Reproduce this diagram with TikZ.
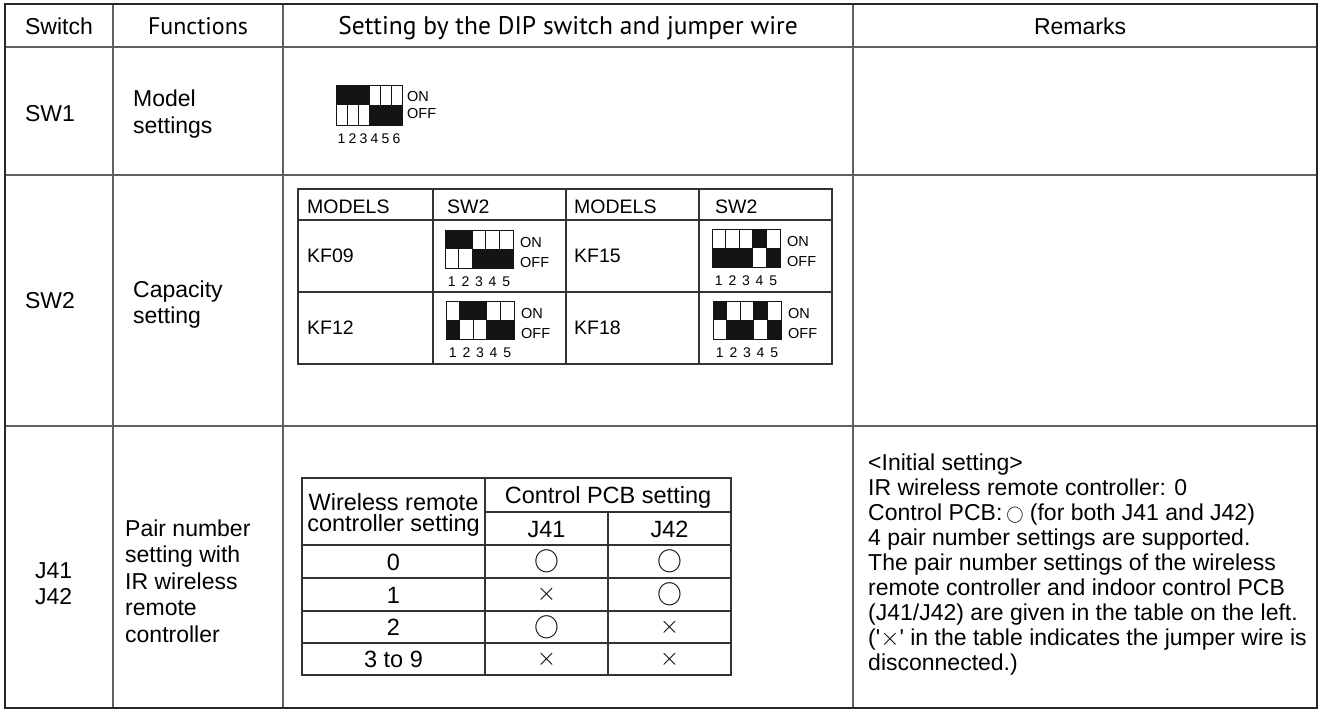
\documentclass[tikz,border=0pt]{standalone}
\usepackage{fontspec}
\setmainfont{Liberation Sans}[Ligatures=TeXOff]
\newfontfamily\hdfont{PT Sans}
\newcommand\fsz[2]{\fontsize{#1}{#2}\selectfont}
\newcommand\cir{\fsz{25}{25}$\bigcirc$}
\newcommand\crs{\fsz{38}{38}$\times$}
\newcommand\smcir{\raisebox{0.5pt}{\fsz{18}{18}$\bigcirc$}}
\newcommand\smcrs{$\times$}
\tikzset{
  gridline/.style={draw=black!62, line width=1.4pt},
  frameline/.style={draw=black!85, line width=2pt},
  itab/.style={draw=black!80, line width=1.1pt},
  dipfill/.style={fill=black!92},
  dipline/.style={draw=black!92, line width=0.9pt},
  txt/.style={inner sep=0pt, font=\fsz{23}{23}},
  btxt/.style={txt, anchor=base},
  bwtxt/.style={txt, anchor=base west},
  htxt/.style={inner sep=0pt, anchor=base, font=\hdfont\fsz{24}{24}},
  stxt/.style={inner sep=0pt, anchor=base west, font=\fsz{19.5}{19.5}},
  jtxt/.style={inner sep=0pt, anchor=base, font=\fsz{23.5}{23.5}},
  digit/.style={inner sep=0pt, font=\fsz{14}{14}},
  onoff/.style={inner sep=0pt, anchor=base west, font=\fsz{14.5}{14.5}},
  sym/.style={inner sep=0pt}
}
% #1 name, #2 x, #3 y, #4 switch width, #5 half height, #6 pattern (1 = ON)
\newcommand\dipsw[6]{%
  \foreach \v [count=\i] in {#6} {
    \pgfmathsetmacro\xa{#2+(\i-1)*#4}
    \pgfmathsetmacro\xb{#2+\i*#4}
    \pgfmathsetmacro\xm{#2+(\i-0.5)*#4}
    \ifnum\v=1
      \fill[dipfill] (\xa,#3) rectangle (\xb,#3+#5);
    \else
      \fill[dipfill] (\xa,#3+#5) rectangle (\xb,#3+2*#5);
    \fi
    \draw[dipline] (\xa,#3) rectangle (\xb,#3+2*#5);
    \node[digit] (#1d\i) at (\xm,#3+2*#5+14) {\i};
  }
}
\begin{document}
\begin{tikzpicture}[x=1pt,y=-1pt]
\useasboundingbox (0,0) rectangle (1322,710);
\fill[white] (0,0) rectangle (1322,710);
% main grid
\draw[gridline] (113,4) -- (113,708) (283,4) -- (283,708) (853,4) -- (853,708);
\draw[gridline] (5,47) -- (1317,47) (5,175) -- (1317,175) (5,426) -- (1317,426);
\draw[frameline] (5,4) rectangle (1317,708);

% header
\node[btxt] (hSwitch) at (59,34) {Switch};
\node[htxt] (hFunc) at (198,34) {Functions};
\node[htxt, font=\hdfont\fsz{25.5}{25.5}] (hSet) at (568,34) {Setting by the DIP switch and jumper wire};
\node[btxt] (hRem) at (1080,34) {Remarks};

% SW1 row
\node[btxt] (sw1) at (50,121) {SW1};
\node[bwtxt] (sw1f1) at (133,106) {Model};
\node[bwtxt] (sw1f2) at (133,133) {settings};
\dipsw{swa}{336}{85}{11}{20}{1,1,1,0,0,0}
\node[onoff] (swaon) at (407,101) {ON};
\node[onoff] (swaoff) at (407,118) {OFF};

% SW2 row
\node[btxt] (sw2) at (50,308) {SW2};
\node[bwtxt] (sw2f1) at (133,297) {Capacity};
\node[bwtxt] (sw2f2) at (133,323) {setting};
\draw[itab] (298,189) rectangle (832,364);
\draw[itab] (433,189) -- (433,364) (566,189) -- (566,364) (699,189) -- (699,364);
\draw[itab] (298,220) -- (832,220) (298,292) -- (832,292);
\node[stxt] (m1) at (307,213) {MODELS};
\node[stxt] (s1) at (447,213) {SW2};
\node[stxt] (m2) at (574,213) {MODELS};
\node[stxt] (s2) at (715,213) {SW2};
\node[stxt] (kf09) at (307,262) {KF09};
\node[stxt] (kf15) at (574,262) {KF15};
\node[stxt] (kf12) at (307,334) {KF12};
\node[stxt] (kf18) at (574,334) {KF18};
\dipsw{da}{445}{230}{13.6}{19}{1,1,0,0,0}
\node[onoff] (daon) at (520,247) {ON};
\node[onoff] (daoff) at (520,267) {OFF};
\dipsw{db}{712}{229}{13.6}{19}{0,0,0,1,0}
\node[onoff] (dbon) at (787,246) {ON};
\node[onoff] (dboff) at (787,266) {OFF};
\dipsw{dc}{446}{301}{13.6}{19}{0,1,1,0,0}
\node[onoff] (dcon) at (521,318) {ON};
\node[onoff] (dcoff) at (521,338) {OFF};
\dipsw{dd}{713}{301}{13.6}{19}{1,0,0,1,0}
\node[onoff] (ddon) at (788,318) {ON};
\node[onoff] (ddoff) at (788,338) {OFF};

% J41/J42 row
\node[bwtxt] (j41) at (35,578) {J41};
\node[bwtxt] (j42) at (35,604) {J42};
\foreach \t [count=\k] in {{Pair number},{setting with},{IR wireless},{remote},{controller}}
  \node[bwtxt] (pf\k) at (125,536+26.5*\k-26.5) {\t};

% pair table
\draw[itab] (302,478) rectangle (731,675);
\draw[itab] (485,478) -- (485,675) (608,512) -- (608,675);
\draw[itab] (485,512) -- (731,512);
\draw[itab] (302,545) -- (731,545) (302,578) -- (731,578) (302,611) -- (731,611) (302,643) -- (731,643);
\node[jtxt] (wr1) at (393.5,510) {Wireless remote};
\node[jtxt] (wr2) at (393.5,531) {controller setting};
\node[jtxt] (cpcb) at (608,503) {Control PCB setting};
\node[jtxt] (hj41) at (546.5,537) {J41};
\node[jtxt] (hj42) at (669.5,537) {J42};
\node[jtxt] (r0) at (393.5,570) {0};
\node[jtxt] (r1) at (393.5,603) {1};
\node[jtxt] (r2) at (393.5,635.5) {2};
\node[jtxt] (r3) at (393.5,667.5) {3 to 9};
\node[sym] (a0) at (546.5,561.5) {\cir};
\node[sym] (b0) at (669.5,561.5) {\cir};
\node[sym] (a1) at (546.5,594.5) {\crs};
\node[sym] (b1) at (669.5,594.5) {\cir};
\node[sym] (a2) at (546.5,627) {\cir};
\node[sym] (b2) at (669.5,627) {\crs};
\node[sym] (a3) at (546.5,659) {\crs};
\node[sym] (b3) at (669.5,659) {\crs};

% remarks
\foreach \t [count=\k] in {{<Initial setting>},{IR wireless remote controller: 0},{Control PCB:\,\smcir\ (for both J41 and J42)},{4 pair number settings are supported.},{The pair number settings of the wireless},{remote controller and indoor control PCB},{(J41/J42) are given in the table on the left.},{('\smcrs' in the table indicates the jumper wire is},{disconnected.)}}
  \node[bwtxt] (rm\k) at (868,470+25*\k-25) {\t};
\end{tikzpicture}
\end{document}
